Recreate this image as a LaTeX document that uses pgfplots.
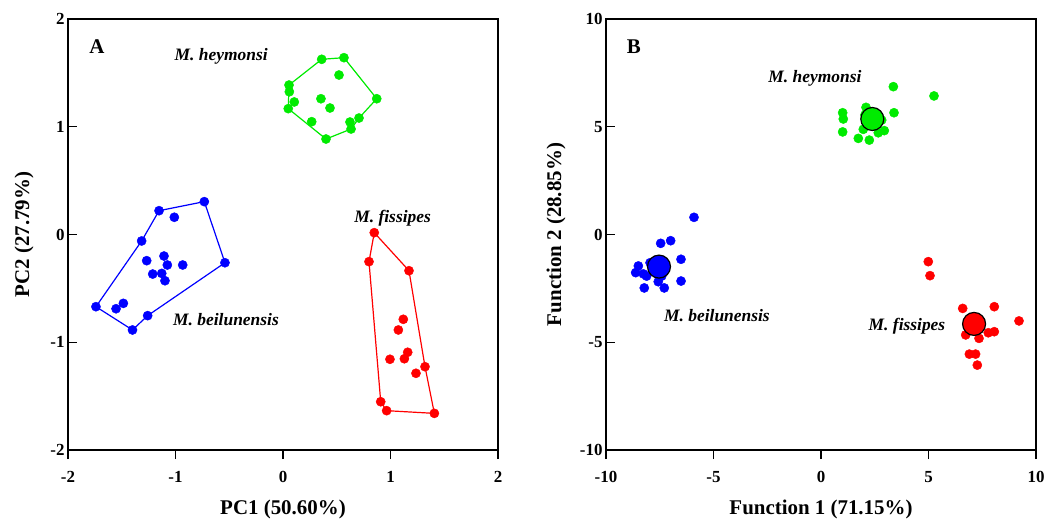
\documentclass[border=0pt]{standalone}
\usepackage{fontspec}
\setmainfont{Liberation Serif}
\usepackage{pgfplots}
\pgfplotsset{compat=1.18}
\definecolor{cblue}{RGB}{0,0,255}
\definecolor{cgreen}{RGB}{0,235,0}
\definecolor{cred}{RGB}{255,0,0}
\tikzset{
  spl/.style={font=\bfseries\itshape\fontsize{17.5}{19}\selectfont},
  pl/.style={font=\bfseries\fontsize{21}{24}\selectfont},
}
\pgfplotsset{
  pca/.style={
    scale only axis, width=430bp, height=431bp,
    axis line style={line width=1.1bp, black},
    xtick align=outside, ytick align=inside, tick pos=left,
    major tick length=9bp,
    every tick/.style={black, line width=1.1bp},
    tick label style={font=\bfseries\fontsize{17}{19}\selectfont},
    xticklabel style={yshift=-9bp},
    /pgf/number format/assume math mode=true,
    label style={font=\bfseries\fontsize{21}{24}\selectfont},
    xlabel style={at={(axis description cs:0.5,-0.137)}, anchor=center},
    clip=false,
  },
  grp/.style={only marks, mark=*, mark size=4.6bp, color=#1, mark options={draw=#1, fill=#1}},
  hull/.style={color=#1, line width=1.2bp, mark=none},
  cent/.style={only marks, mark=*, mark size=11.5bp, mark options={draw=black, fill=#1, line width=1.2bp}},
}
\begin{document}
\begin{tikzpicture}
\useasboundingbox (0,0) rectangle (1057bp,521bp);
% ---------------- Panel A ----------------
\begin{axis}[pca, at={(68bp,71bp)}, anchor=south west,
  xmin=-2, xmax=2, ymin=-2, ymax=2,
  xtick={-2,-1,0,1,2}, ytick={-2,-1,0,1,2},
  xlabel={PC1 (50.60\%)}, ylabel={PC2 (27.79\%)},
  ylabel style={at={(axis description cs:-0.102,0.5)}, anchor=center}]
% hulls
\addplot[hull=cblue] coordinates {(-1.74,-0.67) (-1.40,-0.886) (-1.259,-0.753) (-0.540,-0.262) (-0.732,0.305) (-1.153,0.221) (-1.315,-0.060) (-1.74,-0.67)};
\addplot[hull=cgreen] coordinates {(0.056,1.387) (0.360,1.626) (0.567,1.641) (0.872,1.260) (0.707,1.081) (0.633,0.979) (0.400,0.886) (0.049,1.168) (0.056,1.387)};
\addplot[hull=cred] coordinates {(0.849,0.017) (1.172,-0.336) (1.321,-1.227) (1.408,-1.660) (0.964,-1.635) (0.909,-1.552) (0.800,-0.252) (0.849,0.017)};
% points
\addplot[grp=cblue] coordinates {
(-1.74,-0.67) (-1.40,-0.886) (-1.259,-0.753) (-0.540,-0.262) (-0.732,0.305) (-1.153,0.221) (-1.315,-0.060)
(-1.011,0.160) (-1.553,-0.689) (-1.485,-0.639) (-1.268,-0.243) (-1.107,-0.200) (-1.076,-0.283) (-0.933,-0.283)
(-1.212,-0.367) (-1.128,-0.361) (-1.098,-0.429)};
\addplot[grp=cgreen] coordinates {
(0.360,1.626) (0.567,1.641) (0.521,1.480) (0.872,1.260) (0.056,1.387) (0.059,1.325) (0.105,1.230) (0.049,1.168)
(0.353,1.260) (0.437,1.174) (0.267,1.047) (0.707,1.081) (0.623,1.044) (0.633,0.979) (0.400,0.886)};
\addplot[grp=cred] coordinates {
(0.849,0.017) (0.800,-0.252) (1.172,-0.336) (1.321,-1.227) (1.408,-1.660) (0.964,-1.635) (0.909,-1.552)
(1.119,-0.787) (1.073,-0.886) (1.160,-1.093) (1.129,-1.153) (0.995,-1.158) (1.237,-1.288)};
\node[pl] at (axis cs:-1.73,1.74) {A};
\node[spl, anchor=east] at (axis cs:-0.11,1.65) {M. heymonsi};
\node[spl] at (axis cs:1.02,0.153) {M. fissipes};
\node[spl] at (axis cs:-0.53,-0.793) {M. beilunensis};
\end{axis}
% ---------------- Panel B ----------------
\begin{axis}[pca, at={(606bp,71bp)}, anchor=south west,
  xmin=-10, xmax=10, ymin=-10, ymax=10,
  xtick={-10,-5,0,5,10}, ytick={-10,-5,0,5,10},
  xlabel={Function 1 (71.15\%)}, ylabel={Function 2 (28.85\%)},
  ylabel style={at={(axis description cs:-0.116,0.5)}, anchor=center}]
\addplot[grp=cblue] coordinates {
(-5.907,0.797) (-7.457,-0.41) (-6.993,-0.288) (-6.512,-1.15) (-8.496,-1.46) (-8.62,-1.77) (-8.26,-1.83)
(-8.11,-1.93) (-7.95,-1.31) (-7.41,-1.93) (-7.57,-2.19) (-6.51,-2.16) (-8.22,-2.48) (-7.29,-2.48)
(-7.70,-1.60) (-7.30,-1.50) (-7.60,-1.20)};
\addplot[grp=cgreen] coordinates {
(3.365,6.86) (5.256,6.43) (1.007,5.65) (1.037,5.36) (2.093,5.90) (3.395,5.65) (2.823,5.31) (1.967,4.88)
(1.007,4.76) (2.665,4.72) (2.944,4.82) (1.735,4.46) (2.247,4.38) (2.047,5.55)};
\addplot[grp=cred] coordinates {
(4.99,-1.26) (5.07,-1.91) (6.59,-3.43) (8.06,-3.35) (9.21,-4.01) (6.73,-4.66) (7.35,-4.82) (7.78,-4.56)
(8.06,-4.51) (6.90,-5.55) (7.19,-5.55) (7.27,-6.06)};
\addplot[cent=cblue] coordinates {(-7.535,-1.49)};
\addplot[cent=cgreen] coordinates {(2.386,5.36)};
\addplot[cent=cred] coordinates {(7.12,-4.15)};
\node[pl] at (axis cs:-8.7,8.7) {B};
\node[spl] at (axis cs:-0.28,7.26) {M. heymonsi};
\node[spl] at (axis cs:-4.84,-3.74) {M. beilunensis};
\node[spl] at (axis cs:4.00,-4.25) {M. fissipes};
\end{axis}
\end{tikzpicture}
\end{document}
